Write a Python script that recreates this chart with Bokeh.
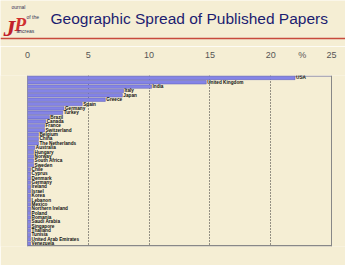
from bokeh.plotting import figure
from bokeh.layouts import column
from bokeh.models import Range1d, FixedTicker, ColumnDataSource, Span
from bokeh.core.properties import value
from bokeh.embed import file_html
from bokeh.resources import INLINE

countries = ["USA", "United Kingdom", "India", "Italy", "Japan", "Greece", "Spain",
             "Germany", "Turkey", "Brazil", "Canada", "France", "Switzerland",
             "Belgium", "China", "The Netherlands", "Australia", "Hungary", "Norway",
             "South Africa", "Sweden", "Chile", "Cyprus", "Denmark", "Germany",
             "Ireland", "Israel", "Korea", "Lebanon", "Mexico", "Northern Ireland",
             "Poland", "Romania", "Saudi Arabia", "Singapore", "Thailand", "Tunisia",
             "United Arab Emirates", "Venezuela"]
percent = [22.0, 14.7, 10.2, 7.9, 7.8, 6.4, 4.5,
           3.0, 2.9, 1.8, 1.5, 1.4, 1.4,
           0.9, 0.9, 0.9, 0.6, 0.5, 0.5,
           0.5, 0.5, 0.25, 0.25, 0.25, 0.25,
           0.25, 0.25, 0.25, 0.25, 0.25, 0.25,
           0.25, 0.25, 0.25, 0.25, 0.25, 0.25,
           0.25, 0.25]
tick_values = [0, 5, 10, 15, 20, 25]
grid_values = [5, 10, 15, 20]
unit_label = "%"
unit_pos = 22.6
x_max = 25
title_text = "Geographic Spread of Published Papers"

W, H = 345, 265
HEAD_H = 46
MAIN_H = H - HEAD_H
BG = "#f5eed4"
BAR = "#8484e6"
BAR_EDGE = "#5a5ab4"

# ---------------- header (logo, title, red rule) ----------------
head = figure(width=W, height=HEAD_H, output_backend="svg", toolbar_location=None,
              x_range=Range1d(0, W), y_range=Range1d(HEAD_H, 0),
              x_axis_location=None, y_axis_location=None,
              min_border=0)
head.background_fill_color = BG
head.border_fill_color = BG
head.outline_line_color = None
head.grid.grid_line_color = None

head.text(x=[50], y=[18], text=[title_text], text_font=value("Liberation Sans"),
          text_font_size="15.5px", text_color="#1c1c70",
          text_baseline="middle", text_align="left")
head.segment(x0=[0], x1=[W], y0=[38], y1=[38], line_color="#c84a3c", line_width=1.5)

# logo approximation
head.text(x=[3], y=[27], text=["J"], text_font=value("Liberation Serif"),
          text_font_size="24px", text_font_style="bold italic", text_color="#c0202a",
          text_baseline="alphabetic")
head.text(x=[14], y=[24], text=["P"], text_font=value("Liberation Serif"),
          text_font_size="19px", text_font_style="bold italic", text_color="#d03030",
          text_baseline="alphabetic")
head.text(x=[11, 26, 16], y=[6, 16, 30], text=["ournal", "of the", "ancreas"],
          text_font=value("Liberation Sans"), text_font_size="5px",
          text_color="#333355", text_baseline="middle")

# ---------------- main chart ----------------
px_per_unit = 304 / 25.0
x0 = -27 / px_per_unit
x1 = x_max + 14 / px_per_unit
n = len(countries)
y_top = -0.55
y_bot = n - 1 + 0.66

rows = list(range(n))
src = ColumnDataSource(dict(y=rows, v=percent, name=countries,
                            lx=[v + 0.08 for v in percent]))

p = figure(width=W, height=MAIN_H, output_backend="svg", toolbar_location=None,
           x_range=Range1d(x0, x1), y_range=Range1d(y_bot, y_top),
           x_axis_location="above", y_axis_location=None,
           min_border_left=0, min_border_right=0, min_border_bottom=19,
           min_border_top=23)
p.background_fill_color = BG
p.border_fill_color = BG
p.outline_line_color = None

ax = p.xaxis[0]
ax.ticker = FixedTicker(ticks=tick_values + [unit_pos])
ax.major_label_overrides = {unit_pos: unit_label}
ax.axis_line_color = None
ax.major_tick_line_color = None
ax.minor_tick_line_color = None
ax.major_label_text_font = "Liberation Sans"
ax.major_label_text_font_size = "9px"
ax.major_label_text_color = "#555555"
ax.major_label_standoff = 10

p.ygrid.grid_line_color = None
p.xgrid.ticker = FixedTicker(ticks=grid_values)
p.xgrid.grid_line_color = "#333333"
p.xgrid.grid_line_dash = "1 2"
p.xgrid.grid_line_width = 1

# frame box
p.add_layout(Span(location=0, dimension="height", line_color="#8888b0", line_width=1))
p.add_layout(Span(location=x_max, dimension="height", line_color="#888888", line_width=1))
p.segment(x0=[0], x1=[x_max], y0=[y_top + 0.15], y1=[y_top + 0.15], line_color="#8888aa", line_width=1)
p.segment(x0=[0], x1=[x_max], y0=[y_bot - 0.15], y1=[y_bot - 0.15], line_color="#888888", line_width=1.5)

p.hbar(y="y", left=0, right="v", height=0.8, source=src,
       fill_color=BAR, line_color=BAR_EDGE, line_width=0.5)
p.text(x="lx", y="y", text="name", source=src, text_font=value("Liberation Sans"),
       text_font_size="4.7px", text_font_style="bold", text_color="#111111",
       text_baseline="middle", text_align="left")

layout = column(head, p, spacing=0)
open("out.html", "w").write(file_html(layout, INLINE))
